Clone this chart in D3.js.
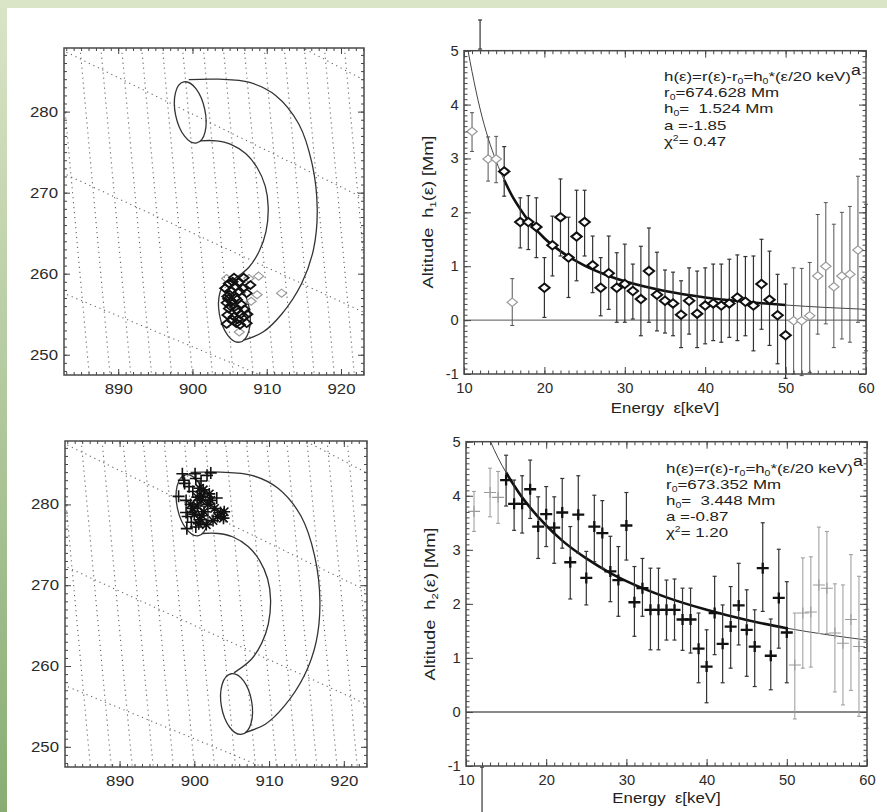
<!DOCTYPE html>
<html><head><meta charset="utf-8">
<script src="https://cdn.jsdelivr.net/npm/d3@7/dist/d3.min.js"></script>
<style>html,body{margin:0;padding:0;background:#fff;}svg{display:block;}</style>
</head><body>
<svg id="fig" width="887" height="812"></svg>
<script>
// ---------------- DATA ----------------
const energy = [11,12,13,14,15,16,17,18,19,20,21,22,23,24,25,26,27,28,29,30,31,32,33,34,35,36,37,38,39,40,41,42,43,44,45,46,47,48,49,50,51,52,53,54,55,56,57,58,59,60];

const h1Val = [3.50,5.30,2.99,2.99,2.76,0.33,1.82,1.82,1.73,0.60,1.39,1.91,1.16,1.55,1.82,1.02,0.60,0.87,0.60,0.67,0.54,0.39,0.91,0.47,0.36,0.31,0.10,0.36,0.12,0.27,0.31,0.27,0.31,0.42,0.34,0.27,0.67,0.38,0.09,-0.28,-0.01,-0.01,0.08,0.82,1.00,0.62,0.82,0.85,1.30,0.77];
const h1Hi  = [3.85,5.57,3.40,3.41,3.22,0.77,2.27,2.31,2.27,1.16,1.93,2.62,1.91,2.41,2.41,1.56,1.16,1.56,1.25,1.41,1.04,1.37,1.71,1.26,0.93,0.89,0.73,0.97,0.91,0.97,1.04,1.04,1.13,1.21,1.18,1.19,1.50,1.28,0.85,0.67,0.97,0.96,1.07,1.96,2.18,1.78,2.00,2.11,2.67,2.15];
const h1Lo  = [3.13,5.03,2.58,2.55,2.30,-0.10,1.34,1.31,1.16,0.05,0.82,1.19,0.42,0.73,1.19,0.51,0.08,0.20,-0.04,-0.04,0.02,-0.29,-0.04,-0.20,-0.24,-0.29,-0.51,-0.26,-0.51,-0.44,-0.38,-0.41,-0.32,-0.38,-0.29,-0.57,-0.17,-0.47,-0.81,-1.08,-1.00,-1.03,-0.97,-0.26,-0.07,-0.51,-0.35,-0.41,-0.04,-0.57];
const h1Light = [11,13,14,16,51,52,53,54,55,56,57,58,59,60];

const h2Val = [3.71,-2.60,4.06,3.97,4.29,3.85,3.85,4.12,3.43,3.66,3.41,3.69,2.77,3.65,2.48,3.43,3.31,2.60,2.44,3.45,2.03,2.29,1.89,1.89,1.89,1.89,1.71,1.71,1.17,0.84,1.83,1.26,1.58,1.97,1.52,1.21,2.66,1.04,2.11,1.47,0.87,1.83,1.85,2.35,2.29,1.46,1.27,1.71,1.21,0.78];
const h2Hi  = [4.08,-1.02,4.51,4.45,4.75,4.29,4.37,4.66,3.98,4.17,3.98,4.32,3.43,4.37,2.97,4.01,3.91,3.25,3.06,4.06,2.69,2.84,2.66,2.66,2.44,2.46,2.29,2.29,1.83,1.52,2.51,1.98,2.32,2.75,2.26,1.89,3.50,1.72,3.01,2.41,1.83,2.85,2.87,3.42,3.34,2.37,2.35,2.91,2.51,1.90];
const h2Lo  = [3.34,-4.00,3.61,3.49,3.81,3.36,3.31,3.58,2.84,3.06,2.75,3.03,2.09,2.94,1.98,2.78,2.66,2.04,1.77,2.81,1.40,1.77,1.15,1.15,1.33,1.33,1.14,1.09,0.54,0.17,1.06,0.54,0.81,1.24,0.66,0.47,1.86,0.41,1.18,0.54,-0.13,0.81,0.83,1.45,1.45,0.37,0.13,0.40,-0.08,-0.30];
const h2Light = [11,13,14,51,52,53,54,55,56,57,58,59,60];

// fitted power-law curves
const fit1E = [10.5,11,12,13,14,15,16,17,18,20,22,25,28,30,35,40,45,50,55,60];
const fit1H = [5.0,4.61,3.92,3.38,2.95,2.60,2.30,2.06,1.85,1.52,1.28,1.01,0.82,0.72,0.54,0.42,0.34,0.28,0.235,0.20];
const fit2E = [13,14,15,16,17,18,20,22,25,28,30,35,40,45,50,55,60];
const fit2H = [5.02,4.70,4.43,4.19,3.97,3.78,3.45,3.17,2.84,2.57,2.42,2.12,1.89,1.70,1.55,1.43,1.33];
const fitRange = [15,50];

const annR0 = ["674.628","673.352"];
const annH0 = ["1.524","3.448"];
const annA  = ["-1.85","-0.87"];
const annChi = ["0.47","1.20"];

// energy panel ticks
const eTicks = [10,20,30,40,50,60];
const hTicks = [-1,0,1,2,3,4,5];
// map panel ticks
const mapXTicks = [890,900,910,920];
const mapYTicks = [250,260,270,280];

// loop model (arcsec)
const outerArc = [[899.5,283.95],[903.5,284.0],[907.7,283.6],[911.2,282.0],[914.3,278.5],[916.1,273.6],[916.8,268.0],[916.3,263.0],[914.7,258.8],[912.0,255.0],[909.5,252.8],[906.9,251.8]];
const innerArc = [[901.0,276.4],[903.2,276.4],[905.1,276.0],[907.2,274.8],[908.7,273.1],[909.8,270.8],[910.2,268.2],[909.9,265.2],[909.0,262.8],[907.6,260.8],[905.3,259.15]];
const footCenters = [[899.7,279.9],[905.65,255.3]];
const footRadii = [[2.0,3.85],[2.05,3.8]];
const footTilt = [-12,-10];

// heliographic grid lines (arcsec endpoints)
const latLines = [
  [[880,304.6],[926,282.5]],
  [[880,288.7],[926,268.0]],
  [[880,273.5],[926,254.0]],
  [[880,258.6],[926,241.1]]
];
const lonTop    = [882.0,884.8,887.6,890.4,893.1,895.9,898.6,901.4,904.1,906.9,909.6,912.3,915.0,917.7,920.4,923.1];
const lonBottom = [886.2,889.0,891.8,894.6,897.3,900.1,902.8,905.6,908.3,911.1,913.8,916.5,919.2,921.9,924.6,927.3];

// centroid positions, upper map (diamonds)
const c1X = [905.6,906.9,905.8,907.8,904.7,907.3,905.1,906.0,905.6,904.7,906.9,907.3,906.4,904.4,906.0,905.3,904.9,906.3,905.2,906.6,905.9,904.6,904.6,907.0,906.2,905.4,904.9,906.5,905.7,905.0,906.8,907.4,905.4,904.8,906.1,905.8,908.9,908.7,912.0,907.6,904.6,907.9,906.3];
const c1Y = [259.5,259.5,258.4,258.6,257.2,257.6,256.0,255.5,254.7,254.9,254.7,253.9,253.7,258.2,256.8,256.6,255.7,257.8,257.9,256.2,253.9,256.4,253.8,255.6,258.9,259.0,258.8,255.0,255.9,257.4,258.2,255.0,254.3,256.9,254.4,257.0,259.7,257.4,257.6,259.4,259.4,256.6,252.8];
const c1Light = [0,0,0,0,0,0,0,0,0,0,0,0,0,0,0,0,0,0,0,0,0,0,0,0,0,0,0,0,0,0,0,0,0,0,0,0,1,1,1,1,1,1,1];
// centroid positions, lower map (plus / star)
const c2X = [898.4,900.1,901.7,898.7,900.7,899.8,900.9,898.9,900.9,902.2,899.8,901.3,903.1,903.9,899.1,900.7,901.6,900.2,902.7,900.2,899.5,900.4,901.0,900.0,903.5,902.5,899.3,901.2,900.4,904.0,898.9,901.8,900.6,899.6,902.0,900.9,898.6,902.2,897.9,899.0,903.0];
const c2Y = [283.8,283.8,283.6,282.6,282.0,281.6,281.0,280.5,280.5,280.5,279.5,279.1,278.5,278.3,278.5,278.1,277.5,277.2,279.5,283.2,280.0,279.8,278.6,278.8,279.0,278.0,282.2,281.8,280.9,279.1,279.0,280.0,277.6,277.8,281.3,282.9,283.0,283.9,281.0,277.0,280.8];
const c2Star = [0,0,0,0,1,0,1,0,1,1,1,1,1,1,0,1,1,0,1,0,1,1,1,1,1,1,0,1,1,1,0,1,1,0,1,0,0,0,0,0,0];

// ---------------- DRAWING ----------------
const FONT = '"Liberation Sans", Arial, Helvetica, sans-serif';
const svg = d3.select('#fig');
const defs = svg.append('defs');
svg.append('rect').attr('width',887).attr('height',812).attr('fill','#fff');
const grad = defs.append('linearGradient').attr('id','gstrip').attr('x1',0).attr('y1',0).attr('x2',0).attr('y2',1);
grad.append('stop').attr('offset','0%').attr('stop-color','#dae4c6');
grad.append('stop').attr('offset','100%').attr('stop-color','#88ad74');
svg.append('rect').attr('x',0).attr('y',0).attr('width',887).attr('height',8).attr('fill','#dae4c6');
svg.append('rect').attr('x',0).attr('y',0).attr('width',7).attr('height',812).attr('fill','url(#gstrip)');

let clipN = 0;
function addClip(x0,y0,w,h){
  const id = 'clip'+(clipN++);
  defs.append('clipPath').attr('id',id).append('rect').attr('x',x0).attr('y',y0).attr('width',w).attr('height',h);
  return 'url(#'+id+')';
}

function boxAxes(g, x, y, xMajor, xMinor, yMajor, yMinor, majLen, minLen, xPad, yPad, fsize, sx){
  const [x0,x1] = x.range();
  const [y1,y0] = y.range();
  const clean = s => s.call(a => a.select('.domain').remove());
  const fmt = d => String(d);
  const ax = g.append('g');
  ax.append('g').attr('transform',`translate(0,${y1})`).call(d3.axisBottom(x).tickValues(xMinor).tickSize(-minLen).tickFormat('')).call(clean);
  ax.append('g').attr('transform',`translate(0,${y1})`).call(d3.axisBottom(x).tickValues(xMajor).tickSize(-majLen).tickPadding(xPad).tickFormat(fmt)).call(clean);
  ax.append('g').attr('transform',`translate(0,${y0})`).call(d3.axisTop(x).tickValues(xMinor).tickSize(-minLen).tickFormat('')).call(clean);
  ax.append('g').attr('transform',`translate(0,${y0})`).call(d3.axisTop(x).tickValues(xMajor).tickSize(-majLen).tickFormat('')).call(clean);
  ax.append('g').attr('transform',`translate(${x0},0)`).call(d3.axisLeft(y).tickValues(yMinor).tickSize(-minLen).tickFormat('')).call(clean);
  ax.append('g').attr('transform',`translate(${x0},0)`).call(d3.axisLeft(y).tickValues(yMajor).tickSize(-majLen).tickPadding(yPad).tickFormat(fmt)).call(clean);
  ax.append('g').attr('transform',`translate(${x1},0)`).call(d3.axisRight(y).tickValues(yMinor).tickSize(-minLen).tickFormat('')).call(clean);
  ax.append('g').attr('transform',`translate(${x1},0)`).call(d3.axisRight(y).tickValues(yMajor).tickSize(-majLen).tickFormat('')).call(clean);
  ax.selectAll('.tick line').attr('stroke','#444').attr('stroke-width',1);
  ax.selectAll('.tick text').attr('font-family',FONT).attr('font-size',fsize).attr('fill','#2a2a2a')
    .attr('transform',`scale(${sx},1)`);
  g.append('rect').attr('x',x0).attr('y',y0).attr('width',x1-x0).attr('height',y1-y0)
    .attr('fill','none').attr('stroke','#4a4a4a').attr('stroke-width',1.5);
}

function richText(g, x, y, parts, size, anchor, rotate, sx){
  const holder = g.append('g').attr('transform',`translate(${x},${y}) rotate(${rotate||0}) scale(${sx||1},1)`);
  const t = holder.append('text').attr('x',0).attr('y',0).attr('font-family',FONT).attr('font-size',size)
    .attr('fill','#222').style('white-space','pre').attr('text-anchor',anchor||'start');
  let off = 0;
  parts.forEach(([s,k]) => {
    const target = k==='sub' ? 3 : (k==='sup' ? -5 : (k==='supA' ? -6.5 : 0));
    const sp = t.append('tspan').attr('dy', target-off).text(s);
    if(k==='sub' || k==='sup') sp.attr('font-size', size*0.62);
    if(k==='supA') sp.attr('font-size', size*1.05);
    off = target;
  });
  return t;
}

// ----- energy panels -----
function energyPanel(o){
  const g = svg.append('g');
  const x = d3.scaleLinear().domain([10,60]).range([o.x0,o.x1]);
  const y = d3.scaleLinear().domain([-1,5]).range([o.y1,o.y0]);
  const clip = addClip(o.x0,o.y0,o.x1-o.x0,o.y1-o.y0);
  // zero line
  g.append('line').attr('x1',o.x0).attr('x2',o.x1).attr('y1',y(0)).attr('y2',y(0))
    .attr('stroke',o.zeroColor).attr('stroke-width',o.zeroWidth);
  // fit curves
  const line = d3.line().x(d=>x(d[0])).y(d=>y(d[1])).curve(d3.curveMonotoneX);
  const pts = o.fitE.map((e,i)=>[e,o.fitH[i]]);
  g.append('path').attr('d',line(pts)).attr('fill','none').attr('stroke','#444').attr('stroke-width',1).attr('clip-path',clip);
  g.append('path').attr('d',line(pts.filter(p=>p[0]>=fitRange[0] && p[0]<=fitRange[1])))
    .attr('fill','none').attr('stroke','#111').attr('stroke-width',2.6).attr('clip-path',clip);
  // error bars
  const data = energy.map((e,i)=>({e, v:o.val[i], lo:o.lo[i], hi:o.hi[i], light:o.light.includes(e)}));
  const eb = g.append('g');
  data.forEach(d => {
    const col = d.light ? o.lightBar : '#333';
    const w = d.light ? 1 : 1.2;
    const xe = x(d.e);
    eb.append('line').attr('x1',xe).attr('x2',xe).attr('y1',y(d.lo)).attr('y2',y(d.hi)).attr('stroke',col).attr('stroke-width',w);
    [d.lo,d.hi].forEach(v => eb.append('line').attr('x1',xe-2).attr('x2',xe+2).attr('y1',y(v)).attr('y2',y(v)).attr('stroke',col).attr('stroke-width',w));
  });
  // markers
  const mk = g.append('g').attr('clip-path',clip);
  mk.selectAll('path').data(data).join('path')
    .attr('transform',d=>`translate(${x(d.e)},${y(d.v)})`)
    .attr('d',o.marker)
    .attr('fill',o.markerFill)
    .attr('stroke',d=>d.light ? '#9a9a9a' : '#111')
    .attr('stroke-width',d=>d.light ? o.lightW : o.darkW);
  boxAxes(g, x, y, eTicks, d3.range(10,60.5,1), hTicks, d3.range(-1,5.01,0.1), 7, 3.5, 9, 5, 14, 1.05);
  // titles
  richText(g, o.ytx, o.yty, [['Altitude  h',''],[o.sub,'sub'],['(ε) [Mm]','']], 14, 'middle', -90, 1.3);
  richText(g, (o.x0+o.x1)/2, o.xty, [['Energy  ε[keV]','']], 14, 'middle', 0, 1.2);
  // annotation
  const k = o.idx, ax = o.x0+200, ay = o.annY, dy = 16.2, fs = 13.5, sx = 1.25;
  richText(g, ax, ay, [['h(ε)=r(ε)-r',''],['0','sub'],['=h',''],['0','sub'],['*(ε/20 keV)',''],['a','supA']], fs, 'start', 0, sx);
  richText(g, ax, ay+dy, [['r',''],['0','sub'],['='+annR0[k]+' Mm','']], fs, 'start', 0, sx);
  richText(g, ax, ay+2*dy, [['h',''],['0','sub'],['=  '+annH0[k]+' Mm','']], fs, 'start', 0, sx);
  richText(g, ax, ay+3*dy, [['a =' + annA[k],'']], fs, 'start', 0, sx);
  richText(g, ax, ay+4*dy, [['χ',''],['2','sup'],['= '+annChi[k],'']], fs, 'start', 0, sx);
}

energyPanel({idx:0, x0:464, x1:866, y0:50.7, y1:374, val:h1Val, lo:h1Lo, hi:h1Hi, light:h1Light,
  fitE:fit1E, fitH:fit1H, marker:'M0,-4.2L5.2,0L0,4.2L-5.2,0Z', markerFill:'#fff', darkW:2, lightW:1.2,
  lightBar:'#555', zeroColor:'#555', zeroWidth:1, sub:'1', ytx:433, yty:212, xty:413, annY:81});
energyPanel({idx:1, x0:466, x1:867, y0:441.7, y1:766, val:h2Val, lo:h2Lo, hi:h2Hi, light:h2Light,
  fitE:fit2E, fitH:fit2H, marker:'M-6,0H6M0,-5.5V5.5', markerFill:'none', darkW:2.3, lightW:1.1,
  lightBar:'#999', zeroColor:'#888', zeroWidth:2, sub:'2', ytx:435, yty:604, xty:803, annY:472.5});

// ----- map panels -----
function mapPanel(o){
  const g = svg.append('g');
  const x = d3.scaleLinear().domain([882.7,923.1]).range([o.x0,o.x1]);
  const y = d3.scaleLinear().domain([247.5,287.85]).range([o.y1,o.y0]);
  const clip = addClip(o.x0,o.y0,o.x1-o.x0,o.y1-o.y0);
  const gc = g.append('g').attr('clip-path',clip);
  const line = d3.line().x(d=>x(d[0])).y(d=>y(d[1]));
  const grid = gc.append('g').attr('fill','none').attr('stroke','#666').attr('stroke-width',1.1).attr('stroke-dasharray','1.2,3.8');
  latLines.forEach(l => grid.append('path').attr('d',line(l)));
  lonTop.forEach((t,i) => grid.append('path').attr('d',line([[t,288.5],[lonBottom[i],246.5]])));
  // loop
  const curve = d3.line().x(d=>x(d[0])).y(d=>y(d[1])).curve(d3.curveCatmullRom.alpha(0.5));
  const lp = gc.append('g').attr('fill','none').attr('stroke','#333').attr('stroke-width',1.3);
  lp.append('path').attr('d',curve(outerArc));
  lp.append('path').attr('d',curve(innerArc));
  footCenters.forEach((c,i) => {
    const cx = x(c[0]), cy = y(c[1]);
    lp.append('ellipse').attr('cx',cx).attr('cy',cy)
      .attr('rx',x(c[0]+footRadii[i][0])-cx).attr('ry',cy-y(c[1]+footRadii[i][1]))
      .attr('transform',`rotate(${footTilt[i]},${cx},${cy})`);
  });
  o.drawMarkers(gc, x, y);
  boxAxes(g, x, y, mapXTicks, d3.range(883,923.5,1), mapYTicks, d3.range(248,288,1), 6, 3, 9, 5, 14, 1.2);
}

mapPanel({x0:64, x1:364, y0:48, y1:375, drawMarkers:(gc,x,y)=>{
  const idx = c1X.map((_,i)=>i).sort((a,b)=>c1Light[b]-c1Light[a]);
  gc.append('g').selectAll('path').data(idx).join('path')
    .attr('transform',i=>`translate(${x(c1X[i])},${y(c1Y[i])})`)
    .attr('d','M0,-4L5,0L0,4L-5,0Z')
    .attr('fill','none')
    .attr('stroke',i=>c1Light[i] ? '#9a9a9a' : '#111')
    .attr('stroke-width',i=>c1Light[i] ? 1.2 : 1.8);
}});
mapPanel({x0:65, x1:367, y0:441, y1:767, drawMarkers:(gc,x,y)=>{
  gc.append('g').selectAll('path').data(c2X.map((_,i)=>i)).join('path')
    .attr('transform',i=>`translate(${x(c2X[i])},${y(c2Y[i])})`)
    .attr('d',i=>c2Star[i] ? 'M-6,0H6M0,-6V6M-4.2,-4.2L4.2,4.2M-4.2,4.2L4.2,-4.2' : 'M-6,0H6M0,-6V6')
    .attr('fill','none')
    .attr('stroke','#111')
    .attr('stroke-width',1.6);
}});
</script>
</body></html>
